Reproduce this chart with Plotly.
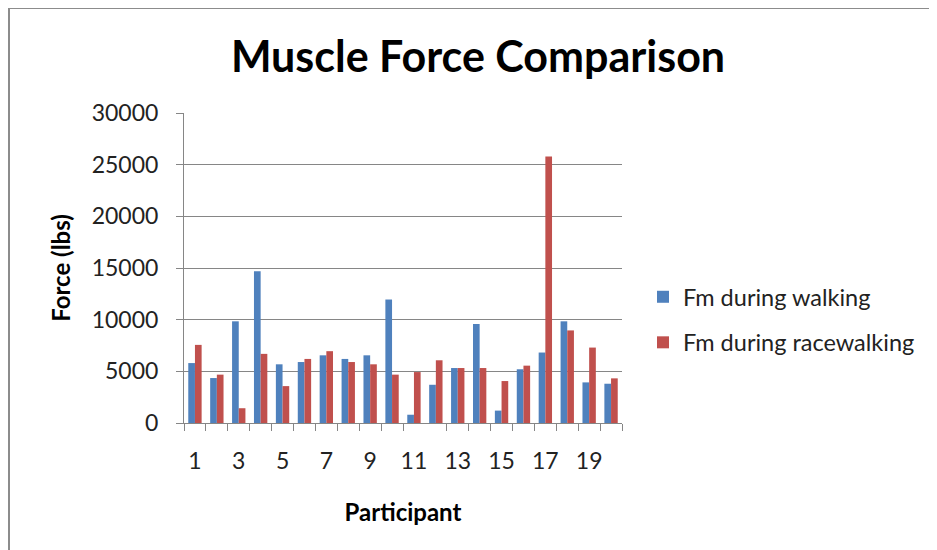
import plotly.graph_objects as go

participants = list(range(1, 21))
fm_walking = [5800, 4350, 9840, 14680, 5680, 5900, 6550, 6200, 6550, 11950,
              800, 3700, 5320, 9580, 1200, 5200, 6820, 9840, 3930, 3800]
fm_racewalking = [7560, 4680, 1430, 6690, 3570, 6200, 6950, 5900, 5680, 4680,
                  4930, 6070, 5320, 5320, 4060, 5550, 25780, 8960, 7300, 4320]
x_tick_labels = [str(i) for i in range(1, 21, 2)]

font_family = "Lato, 'Open Sans', sans-serif"
grey = "#868686"

# page has an 8px body margin; work in figure coordinates
OX, OY = 8, 8
W, H = 937 - OX, 550 - OY
L, T = 184 - OX, 113 - OY
pw, ph = 438, 310
R, B = W - L - pw, H - T - ph

def px_x(x):
    return (x - OX - L) / pw

def px_y(y):
    return (T + ph - (y - OY)) / ph

fig = go.Figure()
fig.add_trace(go.Bar(x=participants, y=fm_walking, name="Fm during walking",
                     marker=dict(color="#4F81BD", line=dict(width=0)),
                     legendgroup="a"))
fig.add_trace(go.Bar(x=participants, y=fm_racewalking, name="Fm during racewalking",
                     marker=dict(color="#C0504D", line=dict(width=0)),
                     legendgroup="b"))

# category boundaries for minor ticks (Excel omitted one)
bounds = [i + 0.5 for i in range(0, 21) if i != 11]

fig.update_layout(
    width=W, height=H,
    margin=dict(l=L, r=R, t=T, b=B),
    paper_bgcolor="white", plot_bgcolor="white",
    barmode="group", bargap=0.39, bargroupgap=0,
    font=dict(family=font_family, color="#222222"),
    title=dict(text="<b>Muscle Force Comparison</b>", x=(478 - OX) / W, xanchor="center",
               y=1 - (57 - OY) / H, yanchor="middle", font=dict(size=43, color="black")),
    showlegend=True,
    legend=dict(x=px_x(643), xanchor="left", y=px_y(320), yanchor="middle",
                font=dict(size=23.5, color="#222222"), traceorder="grouped",
                tracegroupgap=12, itemwidth=30, bgcolor="rgba(0,0,0,0)"),
    xaxis=dict(range=[0.5, 20.5], tickmode="array", tickvals=list(range(1, 21, 2)),
               ticktext=x_tick_labels, ticks="", showgrid=False, zeroline=False,
               showline=True, linecolor=grey, linewidth=1,
               tickfont=dict(size=23, color="#222222"), ticklabelstandoff=17,
               minor=dict(tickmode="array", tickvals=bounds, ticks="outside",
                          ticklen=7, tickcolor=grey, tickwidth=1, showgrid=False),
               title=dict(text="<b>Participant</b>", font=dict(size=24, color="black"),
                          standoff=31)),
    yaxis=dict(range=[0, 30000], tickmode="linear", tick0=0, dtick=5000,
               ticks="outside", ticklen=7, tickcolor=grey, showline=True,
               linecolor=grey, linewidth=1, showgrid=True, gridcolor=grey,
               gridwidth=1, zeroline=False, tickformat="d",
               tickfont=dict(size=23, color="#222222"), ticklabelstandoff=13,
               title=dict(text="<b>Force (lbs)</b>", font=dict(size=24, color="black"),
                          standoff=14)),
    shapes=[dict(type="rect", xref="paper", yref="paper",
                 x0=px_x(9), x1=px_x(960), y0=px_y(580), y1=px_y(8),
                 line=dict(color="#8c8c8c", width=2), fillcolor="rgba(0,0,0,0)",
                 layer="below")],
)

fig.write_html("out.html")
